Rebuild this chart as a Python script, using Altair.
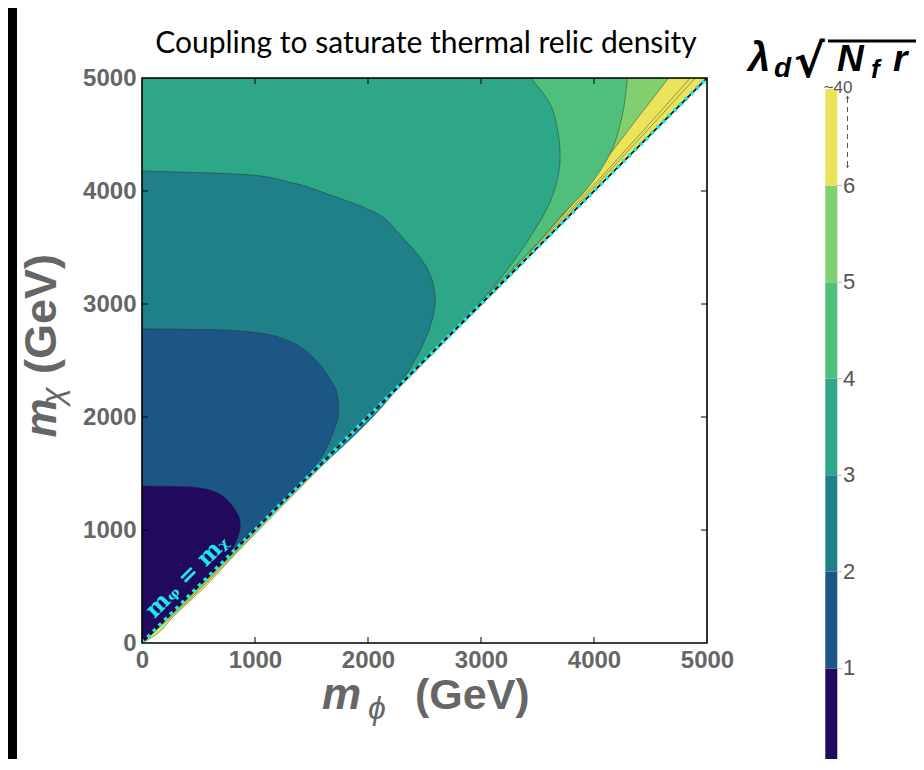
import altair as alt
import pandas as pd

# ---------------- data ----------------
TITLE = "Coupling to saturate thermal relic density"
AXIS_TICKS = [0, 1000, 2000, 3000, 4000, 5000]

# contour boundaries: for each m_chi (y) the largest m_phi (x) inside the region "value < level"
L40_Y = [0, 50, 233, 531, 737, 1200, 2000, 3500, 5000]
L40_X = [0, 90, 277, 590, 781, 1230, 2020, 3510, 5005]
L20_Y = [0, 233, 531, 1000, 2000, 3000, 4000, 5000]
L20_X = [0, 262, 572, 1015, 2005, 2997, 3980, 4896]
L10_Y = [0, 233, 531, 1000, 2000, 3000, 4000, 5000]
L10_X = [0, 250, 556, 1005, 1998, 2990, 3960, 4852]
L6_Y = [0, 1800, 3000, 3669, 3861, 4215, 4599, 5000]
L6_X = [0, 1797, 2990, 3618, 3790, 4056, 4350, 4660]
L5_Y = [0, 1500, 3000, 3655, 3773, 4009, 4334, 4658, 5000]
L5_X = [0, 1495, 2975, 3605, 3705, 3930, 4144, 4248, 4295]
L4_Y = [0, 1200, 2400, 3000, 3300, 3600, 3900, 4300, 4700, 5000]
L4_X = [0, 1197, 2390, 2980, 3230, 3440, 3610, 3700, 3640, 3440]
L3_Y = [0, 1200, 2283, 2593, 2800, 3035, 3257, 3611, 3800, 3965, 4080, 4142, 4177]
L3_X = [0, 1197, 2278, 2463, 2550, 2595, 2551, 2285, 2080, 1666, 1300, 965, 0]
L2_Y = [0, 600, 1200, 1450, 1650, 1824, 2054, 2200, 2354, 2500, 2590, 2680, 2744, 2770, 2780]
L2_X = [0, 598, 1192, 1430, 1590, 1676, 1740, 1728, 1652, 1540, 1444, 1280, 1032, 700, 0]
L1_Y = [0, 300, 600, 800, 912, 1027, 1100, 1177, 1250, 1295, 1340, 1372, 1385, 1390]
L1_X = [0, 297, 594, 785, 838, 870, 864, 826, 770, 722, 640, 516, 350, 0]

C_40 = "#ebe45a"
C_6 = "#80d06f"
C_5 = "#50bf7b"
C_4 = "#2ea688"
C_3 = "#1f8089"
C_2 = "#1b5685"
C_1 = "#21095e"

DIAG_X = [0, 5000]
DIAG_Y = [0, 5000]
ANNOT_TEXT = "m\u1d69 = m\u1d6a"
ANNOT_X = [400]
ANNOT_Y = [590]

CB_LO = [0, 1, 2, 3, 4, 5, 6]
CB_HI = [1, 2, 3, 4, 5, 6, 7]
CB_COLORS = [C_1, C_2, C_3, C_4, C_5, C_6, C_40]
CB_LABEL_POS = [1, 2, 3, 4, 5, 6]
CB_LABELS = ["1", "2", "3", "4", "5", "6"]
CB_TOP_LABEL = "~40"

# ---------------- layout constants ----------------
W = 565
H = 565
GRAY = "#666666"
xscale = alt.Scale(domain=[0, 5000], nice=False, zero=False)
yscale = alt.Scale(domain=[0, 5000], nice=False, zero=False)
cbscale = alt.Scale(domain=[0, 7], range=[687, 11], nice=False, zero=False)

AX = dict(values=AXIS_TICKS, format="d", labelFont="Liberation Sans",
          labelFontWeight="bold", labelFontSize=24, labelColor=GRAY,
          ticks=False, domain=False, grid=False, title=None, labelFlush=False)


def region(ys, xs, fill, axes=False):
    df = pd.DataFrame({"y": ys, "x": xs})
    xax = alt.Axis(labelPadding=5, **AX) if axes else None
    yax = alt.Axis(labelPadding=6, **AX) if axes else None
    return alt.Chart(df).mark_area(
        orient="horizontal", interpolate="monotone", fill=fill, stroke="#262626",
        strokeWidth=0.8, strokeOpacity=0.55, clip=True
    ).encode(
        y=alt.Y("y:Q", scale=yscale, axis=yax),
        x=alt.X("x:Q", scale=xscale, axis=xax, stack=None),
        x2=alt.datum(0),
    )


def contour_line(ys, xs):
    df = pd.DataFrame({"y": ys, "x": xs})
    return alt.Chart(df).mark_line(
        color="#262626", strokeWidth=0.8, opacity=0.55, clip=True, interpolate="basis"
    ).encode(
        y=alt.Y("y:Q", scale=yscale, axis=None),
        x=alt.X("x:Q", scale=xscale, axis=None),
        order="y:Q",
    )


layers = [
    region(L40_Y, L40_X, C_40, axes=True),
    contour_line(L20_Y, L20_X),
    contour_line(L10_Y, L10_X),
    region(L6_Y, L6_X, C_6),
    region(L5_Y, L5_X, C_5),
    region(L4_Y, L4_X, C_4),
    region(L3_Y, L3_X, C_3),
    region(L2_Y, L2_X, C_2),
    region(L1_Y, L1_X, C_1),
]

diag = pd.DataFrame({"x": DIAG_X, "y": DIAG_Y})
layers.append(alt.Chart(diag).mark_line(color="#111111", strokeWidth=1.6, clip=True).encode(
    x=alt.X("x:Q", scale=xscale, axis=None), y=alt.Y("y:Q", scale=yscale, axis=None)))
layers.append(alt.Chart(diag).mark_line(color="#1fe6f2", strokeWidth=4, strokeDash=[3.5, 4.5], clip=True).encode(
    x=alt.X("x:Q", scale=xscale, axis=None), y=alt.Y("y:Q", scale=yscale, axis=None)))

annot = pd.DataFrame({"x": ANNOT_X, "y": ANNOT_Y, "t": [ANNOT_TEXT]})
layers.append(alt.Chart(annot).mark_text(
    font="DejaVu Serif", fontWeight="bold", fontSize=23, color="#1fe6f2",
    angle=315, align="center", baseline="middle"
).encode(x=alt.X("x:Q", scale=xscale, axis=None), y=alt.Y("y:Q", scale=yscale, axis=None), text="t:N"))

# inward frame ticks
tick_df = pd.DataFrame({"v": AXIS_TICKS[1:-1]})
for y0, y1 in [(H, H - 6), (0, 6)]:
    layers.append(alt.Chart(tick_df).mark_rule(color="black", strokeWidth=1).encode(
        x=alt.X("v:Q", scale=xscale, axis=None), y=alt.value(y0), y2=alt.value(y1)))
for x0, x1 in [(0, 6), (W, W - 6)]:
    layers.append(alt.Chart(tick_df).mark_rule(color="black", strokeWidth=1).encode(
        y=alt.Y("v:Q", scale=yscale, axis=None), x=alt.value(x0), x2=alt.value(x1)))

# frame
frame_df = pd.DataFrame({"k": [0]})
layers.append(alt.Chart(frame_df).mark_rect(fillOpacity=0, stroke="black", strokeWidth=1.6).encode(
    x=alt.value(0), x2=alt.value(W), y=alt.value(0), y2=alt.value(H)))
# dark strip at the left edge of the picture
layers.append(alt.Chart(frame_df).mark_rect(fill="black", strokeWidth=0).encode(
    x=alt.value(-134), x2=alt.value(-125), y=alt.value(-70), y2=alt.value(H + 116)))

# colour bar
cb = pd.DataFrame({"lo": CB_LO, "hi": CB_HI, "c": CB_COLORS})
layers.append(alt.Chart(cb).mark_rect().encode(
    y=alt.Y("lo:Q", scale=cbscale, axis=None), y2="hi:Q",
    x=alt.value(683.3), x2=alt.value(695.3), color=alt.Color("c:N", scale=None)))
cbl = pd.DataFrame({"p": CB_LABEL_POS, "t": CB_LABELS})
layers.append(alt.Chart(cbl).mark_rule(color="#bbbbbb", strokeWidth=1).encode(
    y=alt.Y("p:Q", scale=cbscale, axis=None), x=alt.value(695.3), x2=alt.value(700)))
layers.append(alt.Chart(cbl).mark_text(
    font="Liberation Sans", fontSize=22, color="#555555", align="left", baseline="middle"
).encode(y=alt.Y("p:Q", scale=cbscale, axis=None), x=alt.value(701), text="t:N"))
cbt = pd.DataFrame({"p": [7], "t": [CB_TOP_LABEL]})
layers.append(alt.Chart(cbt).mark_text(
    font="Liberation Sans", fontSize=17, color="#555555", align="center", baseline="alphabetic", dy=4
).encode(y=alt.Y("p:Q", scale=cbscale, axis=None), x=alt.value(696), text="t:N"))
# dashed arrow between ~40 and 6
arr = pd.DataFrame({"k": [0]})
layers.append(alt.Chart(arr).mark_rule(color="#555555", strokeWidth=1, strokeDash=[5, 4]).encode(
    x=alt.value(705.5), y=alt.value(20), y2=alt.value(88)))
layers.append(alt.Chart(arr).mark_point(shape="triangle-up", filled=True, size=14, color="#555555", opacity=1).encode(
    x=alt.value(705.5), y=alt.value(19)))
layers.append(alt.Chart(arr).mark_point(shape="triangle-down", filled=True, size=10, color="#555555", opacity=1).encode(
    x=alt.value(705.5), y=alt.value(89)))


def txt(t, x, y, size, weight="bold", style="normal", font="Liberation Sans",
        color=GRAY, angle=0, align="left", baseline="alphabetic"):
    d = pd.DataFrame({"t": [t]})
    return alt.Chart(d).mark_text(
        font=font, fontSize=size, fontWeight=weight, fontStyle=style, color=color,
        angle=angle, align=align, baseline=baseline
    ).encode(x=alt.value(x), y=alt.value(y), text="t:N")


# title
layers.append(txt(TITLE, 284, -25, 30, weight="normal", font="Lato", color="black", align="center"))
# x title
layers.append(txt("m", 180, 631, 44, style="italic"))
layers.append(txt("\u03d5", 226, 641, 32, weight="normal", style="italic"))
layers.append(txt("(GeV)", 273, 631, 43))
# y title
layers.append(txt("m", -86, 340, 44, style="italic", angle=270, align="center"))
layers.append(txt("\u03c7", -79, 318, 32, weight="normal", style="italic", angle=270, align="center"))
layers.append(txt("(GeV)", -86, 236, 45, angle=270, align="center"))
# colour bar title  lambda_d sqrt(N_f r)
layers.append(txt("\u03bb", 606, -7, 40, style="italic", color="black"))
layers.append(txt("d", 632, -1, 28, style="italic", color="black"))
layers.append(txt("\u221a", 652, -1, 46, font="DejaVu Sans", color="black"))
layers.append(alt.Chart(arr).mark_rule(color="black", strokeWidth=3).encode(
    x=alt.value(686), x2=alt.value(790), y=alt.value(-37)))
layers.append(txt("N", 695, -7, 37, style="italic", color="black"))
layers.append(txt("f", 729, 0, 26, style="italic", color="black"))
layers.append(txt("r", 751, -7, 37, style="italic", color="black"))

chart = alt.layer(*layers).resolve_scale(x="independent", y="independent").properties(
    width=W, height=H,
    autosize=alt.AutoSizeParams(type="none"),
    padding={"left": 134, "top": 70, "right": 209, "bottom": 116},
).configure_view(stroke=None)

chart.save("out.html", embed_options={"renderer": "svg", "actions": False})
